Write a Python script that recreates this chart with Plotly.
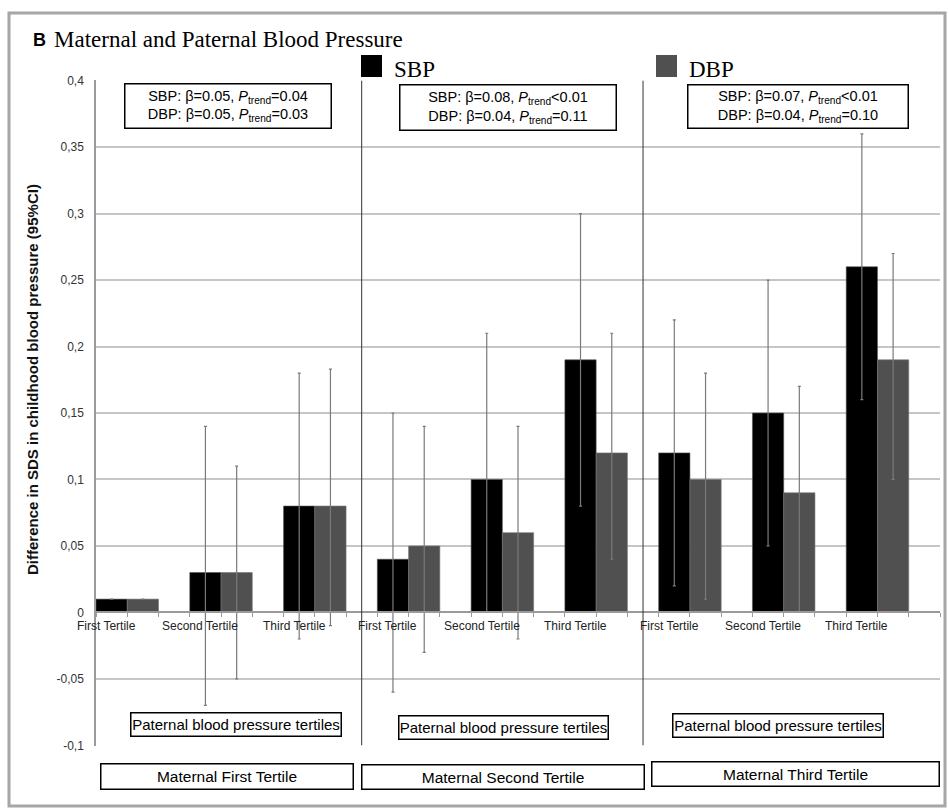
import plotly.graph_objects as go

# ---- data -------------------------------------------------------------
tertiles = ["First Tertile", "Second Tertile", "Third Tertile"]
maternal_groups = ["Maternal First Tertile", "Maternal Second Tertile", "Maternal Third Tertile"]
paternal_label = "Paternal blood pressure tertiles"
series_names = ["SBP", "DBP"]

# nine bars per series: paternal tertile within maternal tertile
sbp = [0.01, 0.03, 0.08, 0.04, 0.10, 0.19, 0.12, 0.15, 0.26]
sbp_lo = [None, -0.07, -0.02, -0.06, 0.00, 0.08, 0.02, 0.05, 0.16]
sbp_hi = [None, 0.14, 0.18, 0.15, 0.21, 0.30, 0.22, 0.25, 0.36]

dbp = [0.01, 0.03, 0.08, 0.05, 0.06, 0.12, 0.10, 0.09, 0.19]
dbp_lo = [None, -0.05, -0.01, -0.03, -0.02, 0.04, 0.01, 0.00, 0.10]
dbp_hi = [None, 0.11, 0.183, 0.14, 0.14, 0.21, 0.18, 0.17, 0.27]

trend_sbp = [("0.05", "=0.04"), ("0.08", "<0.01"), ("0.07", "<0.01")]
trend_dbp = [("0.05", "=0.03"), ("0.04", "=0.11"), ("0.04", "=0.10")]

y_ticks = [-0.1, -0.05, 0, 0.05, 0.1, 0.15, 0.2, 0.25, 0.3, 0.35, 0.4]
y_tick_labels = ["-0,1", "-0,05", "0", "0,05", "0,1", "0,15", "0,2", "0,25", "0,3", "0,35", "0,4"]

# ---- geometry ---------------------------------------------------------
W, H = 949, 808
ML, MR, MT, MB = 96, 9, 80, 62
PW, PH = W - ML - MR, H - MT - MB
SANS = "Arial, Liberation Sans, sans-serif"
SERIF = "Times New Roman, Liberation Serif, serif"


def px(x):
    return (x - ML) / PW


def py(y):
    return (H - MB - y) / PH


n = len(sbp)
idx = list(range(n))
bw = 1 / 3
x_range = [-bw, n - 1 + 2 * bw]


def err(vals, lo, hi):
    up = [float("nan") if h is None else h - v for v, h in zip(vals, hi)]
    dn = [float("nan") if l is None else v - l for v, l in zip(vals, lo)]
    return up, dn


s_up, s_dn = err(sbp, sbp_lo, sbp_hi)
d_up, d_dn = err(dbp, dbp_lo, dbp_hi)

err_style = dict(type="data", symmetric=False, color="#7a7a7a", thickness=1.2, width=1.5)

fig = go.Figure()
fig.add_trace(go.Bar(
    x=idx, y=sbp, width=bw, offset=-bw, name=series_names[0],
    marker=dict(color="#000000", line=dict(color="#555555", width=0.6)),
    error_y=dict(array=s_up, arrayminus=s_dn, **err_style),
))
fig.add_trace(go.Bar(
    x=idx, y=dbp, width=bw, offset=0, name=series_names[1],
    marker=dict(color="#505050", line=dict(color="#777777", width=0.6)),
    error_y=dict(array=d_up, arrayminus=d_dn, **err_style),
))

annotations = []

# paternal tertile labels just under the zero line
for i, lab in zip(idx, tertiles * len(maternal_groups)):
    annotations.append(dict(
        text=lab, x=i - 0.22, y=py(626), xref="x", yref="paper",
        showarrow=False, xanchor="center", yanchor="middle",
        font=dict(family=SANS, size=12, color="#222222"),
    ))

# y-axis title
annotations.append(dict(
    text="<b>Difference in SDS in childhood blood pressure (95%CI)</b>",
    x=px(33), y=py(380), xref="paper", yref="paper", textangle=-90,
    showarrow=False, xanchor="center", yanchor="middle",
    font=dict(family=SANS, size=15, color="#111111"),
))

# panel heading
annotations.append(dict(
    text="<b>B</b>", x=px(31), y=py(40), xref="paper", yref="paper",
    showarrow=False, xanchor="left", yanchor="middle",
    font=dict(family=SANS, size=18, color="black"),
))
annotations.append(dict(
    text="Maternal and Paternal Blood Pressure", x=px(52), y=py(39),
    xref="paper", yref="paper", showarrow=False, xanchor="left", yanchor="middle",
    font=dict(family=SERIF, size=23, color="black"),
))

# legend entries
legend_pos = [(361, "#000000"), (656, "#505050")]
shapes = []
for (lx, col), name in zip(legend_pos, series_names):
    shapes.append(dict(type="rect", xref="paper", yref="paper",
                       x0=px(lx), x1=px(lx + 21), y0=py(77), y1=py(55),
                       fillcolor=col, line=dict(width=0)))
    annotations.append(dict(
        text=name, x=px(lx + 31), y=py(69), xref="paper", yref="paper",
        showarrow=False, xanchor="left", yanchor="middle",
        font=dict(family=SERIF, size=23, color="black"),
    ))


def box(text, cx, cy, w, h, size):
    return dict(
        text=text, x=px(cx), y=py(cy), xref="paper", yref="paper",
        xanchor="center", yanchor="middle", showarrow=False,
        width=w - 2, height=h - 2, borderpad=0, borderwidth=1.5,
        bordercolor="black", bgcolor="white", align="center",
        font=dict(family=SANS, size=size, color="black"),
    )


# trend boxes above each maternal group
trend_boxes = [(227.5, 106.5, 207, 45), (507.5, 107, 217, 46), (797.5, 106, 221, 44)]
for g, (cx, cy, w, h) in enumerate(trend_boxes):
    sb, sp = trend_sbp[g]
    db, dp = trend_dbp[g]
    txt = (f"SBP: β={sb}, <i>P</i><sub>trend</sub>{sp}<br>"
           f"DBP: β={db}, <i>P</i><sub>trend</sub>{dp}")
    annotations.append(box(txt, cx, cy, w, h, 14.5))

# paternal tertile caption boxes
pat_boxes = [(235.5, 724, 211, 24), (503, 727, 210, 24), (777.5, 725, 211, 24)]
for cx, cy, w, h in pat_boxes:
    annotations.append(box(paternal_label, cx, cy, w, h, 15))

# maternal tertile caption boxes
mat_boxes = [(226.5, 777, 253, 26), (502.5, 776.5, 283, 25), (795, 774.5, 288, 25)]
for name, (cx, cy, w, h) in zip(maternal_groups, mat_boxes):
    annotations.append(box(name, cx, cy, w, h, 15.5))

# dividers between maternal groups
for g in range(1, len(maternal_groups)):
    xd = g * len(tertiles) - 0.5
    shapes.append(dict(type="line", xref="x", yref="y", x0=xd, x1=xd,
                       y0=y_ticks[0], y1=y_ticks[-1],
                       line=dict(color="#333333", width=1)))

# outer frame
shapes.append(dict(type="rect", xref="paper", yref="paper",
                   x0=px(9), x1=px(945), y0=py(806), y1=py(13),
                   line=dict(color="#a6a6a6", width=3), fillcolor="rgba(0,0,0,0)"))

# bar-edge tick positions along the zero line
edge_ticks = [-bw + k * bw for k in range(3 * n + 1)]

fig.update_layout(
    width=W, height=H,
    margin=dict(l=ML, r=MR, t=MT, b=MB, pad=0),
    paper_bgcolor="white", plot_bgcolor="white",
    barmode="overlay", showlegend=False,
    annotations=annotations, shapes=shapes,
    xaxis=dict(
        range=x_range, anchor="free", position=py(612),
        tickmode="array", tickvals=edge_ticks, showticklabels=False,
        ticks="outside", ticklen=4, tickcolor="#9a9a9a", tickwidth=1,
        showgrid=False, zeroline=False,
        showline=True, linecolor="#9a9a9a", linewidth=1.5,
        fixedrange=True,
    ),
    yaxis=dict(
        range=[-0.1005, 0.4005], tickmode="array", tickvals=y_ticks, ticktext=y_tick_labels,
        showgrid=True, gridcolor="#c6c6c6", gridwidth=1.5, zeroline=False,
        showline=True, linecolor="#9a9a9a", linewidth=1.5,
        ticks="", ticklabelstandoff=8,
        tickfont=dict(family=SANS, size=12, color="#333333"),
        fixedrange=True,
    ),
)

fig.write_html("out.html")
